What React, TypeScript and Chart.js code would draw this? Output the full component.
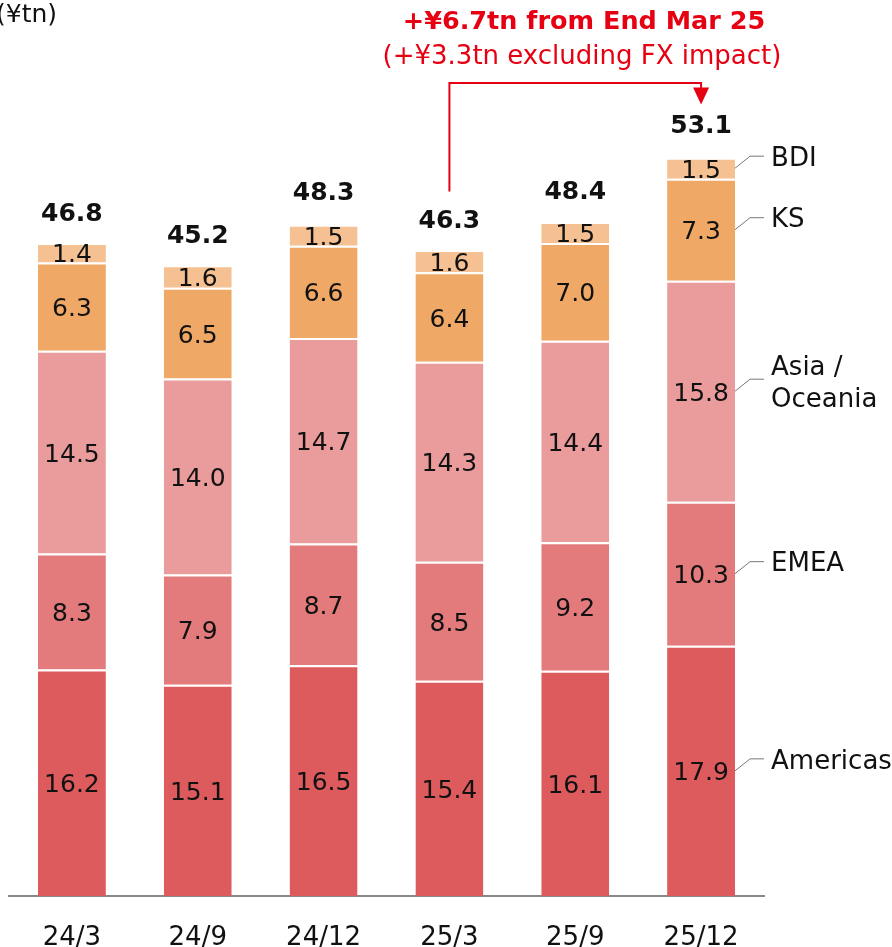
import React, { useEffect, useRef } from "react";
import { Chart, registerables } from "chart.js";

Chart.register(...registerables);

const categories = ["24/3", "24/9", "24/12", "25/3", "25/9", "25/12"];
const seriesNames = ["Americas", "EMEA", "Asia /\nOceania", "KS", "BDI"];
const americas = [16.2, 15.1, 16.5, 15.4, 16.1, 17.9];
const emea = [8.3, 7.9, 8.7, 8.5, 9.2, 10.3];
const asiaOceania = [14.5, 14.0, 14.7, 14.3, 14.4, 15.8];
const ks = [6.3, 6.5, 6.6, 6.4, 7.0, 7.3];
const bdi = [1.4, 1.6, 1.5, 1.6, 1.5, 1.5];
const totals = [46.8, 45.2, 48.3, 46.3, 48.4, 53.1];
const seriesColors = ["#DD5B5D", "#E37B7C", "#EA9C9C", "#EFA866", "#F5C092"];
const unitLabel = "(¥tn)";
const noteMain = "+¥6.7tn from End Mar 25";
const noteSub = "(+¥3.3tn excluding FX impact)";

const FONT = "'DejaVu Sans', Verdana, sans-serif";
const RED = "#E60012";

const overlayPlugin = {
  id: "overlay",
  afterDatasetsDraw(chart: any) {
    const ctx = chart.ctx;
    const xScale = chart.scales.x;
    const yScale = chart.scales.y;
    ctx.save();
    // segment values
    ctx.font = `25px ${FONT}`;
    ctx.fillStyle = "#111";
    ctx.textAlign = "center";
    ctx.textBaseline = "middle";
    chart.data.datasets.forEach((ds: any, di: number) => {
      const meta = chart.getDatasetMeta(di);
      meta.data.forEach((el: any, i: number) => {
        const cy = (el.y + el.base) / 2;
        ctx.fillText(Number(ds.data[i]).toFixed(1), el.x, cy + 3);
      });
    });
    // totals
    ctx.font = `bold 25px ${FONT}`;
    totals.forEach((t, i) => {
      const x = xScale.getPixelForValue(i);
      const y = yScale.getPixelForValue(t) - 27;
      ctx.fillText(t.toFixed(1), x, y);
    });
    // right side series labels with leader lines
    const last = categories.length - 1;
    ctx.font = `26px ${FONT}`;
    ctx.textAlign = "left";
    chart.data.datasets.forEach((ds: any, di: number) => {
      const el = chart.getDatasetMeta(di).data[last];
      const right = el.x + el.width / 2;
      const cy = (el.y + el.base) / 2;
      ctx.strokeStyle = "#777";
      ctx.lineWidth = 1;
      ctx.beginPath();
      ctx.moveTo(right, cy);
      ctx.lineTo(right + 15, cy - 12);
      ctx.lineTo(right + 29, cy - 12);
      ctx.stroke();
      ctx.fillStyle = "#111";
      const lines = seriesNames[di].split("\n");
      const ly = cy - 9;
      if (lines.length === 1) {
        ctx.fillText(lines[0], right + 36, ly);
      } else {
        ctx.fillText(lines[0], right + 36, ly - 14);
        ctx.fillText(lines[1], right + 36, ly + 18);
      }
    });
    // unit label
    ctx.textAlign = "left";
    ctx.font = `25px ${FONT}`;
    ctx.fillText(unitLabel, -4, 15);
    // red annotation
    const x0 = xScale.getPixelForValue(3);
    const x1 = xScale.getPixelForValue(5);
    const yTop = 83;
    const yStart = yScale.getPixelForValue(totals[3]) - 57;
    const yTip = yScale.getPixelForValue(totals[5]) - 49;
    ctx.strokeStyle = RED;
    ctx.lineWidth = 2;
    ctx.beginPath();
    ctx.moveTo(x0, yStart);
    ctx.lineTo(x0, yTop);
    ctx.lineTo(x1, yTop);
    ctx.lineTo(x1, yTip - 14);
    ctx.stroke();
    ctx.fillStyle = RED;
    ctx.beginPath();
    ctx.moveTo(x1 - 8, yTip - 17);
    ctx.lineTo(x1 + 8, yTip - 17);
    ctx.lineTo(x1, yTip);
    ctx.closePath();
    ctx.fill();
    ctx.textAlign = "center";
    ctx.font = `bold 25.5px ${FONT}`;
    ctx.fillText(noteMain, 584, 22);
    ctx.font = `26px ${FONT}`;
    ctx.fillText(noteSub, 582, 57);
    ctx.restore();
  },
};

export default function App() {
  const ref = useRef<HTMLCanvasElement>(null);
  useEffect(() => {
    document.body.style.margin = "0";
    const series = [americas, emea, asiaOceania, ks, bdi];
    const chart = new Chart(ref.current as HTMLCanvasElement, {
      type: "bar",
      data: {
        labels: categories,
        datasets: series.map((d, i) => ({
          label: seriesNames[i],
          data: d,
          backgroundColor: seriesColors[i],
          borderColor: "#ffffff",
          borderWidth: { top: 2, left: 0, right: 0, bottom: 0 },
          borderSkipped: false,
          barPercentage: 0.54,
          categoryPercentage: 1,
        })),
      },
      options: {
        animation: false,
        responsive: false,
        maintainAspectRatio: false,
        layout: { padding: { left: 9, right: 128, top: 57, bottom: -33 } },
        plugins: {
          legend: { display: false },
          tooltip: { enabled: false },
        },
        scales: {
          x: {
            stacked: true,
            grid: { display: false, drawTicks: false },
            border: { display: true, color: "#888", width: 2 },
            ticks: {
              color: "#111",
              padding: 29,
              font: { family: FONT, size: 26, lineHeight: 1 },
            },
          },
          y: {
            stacked: true,
            display: false,
            min: 0,
            max: 60,
          },
        },
      },
      plugins: [overlayPlugin],
    });
    return () => chart.destroy();
  }, []);
  return (
    <div style={{ width: 892, height: 947 }}>
      <canvas ref={ref} width={892} height={947} style={{ width: 892, height: 947 }} />
    </div>
  );
}
